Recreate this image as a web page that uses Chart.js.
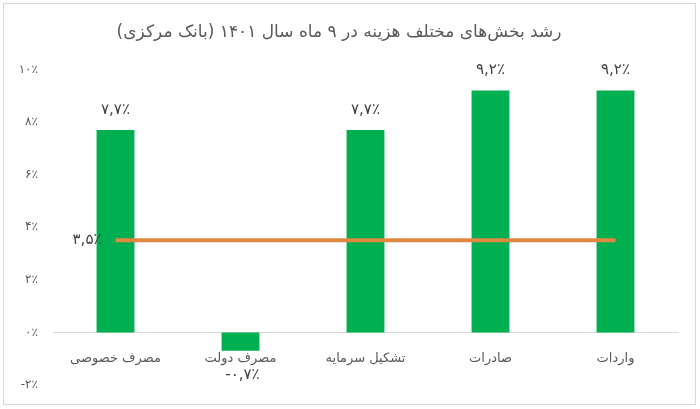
<!DOCTYPE html>
<html>
<head>
<meta charset="utf-8">
<script src="https://cdn.jsdelivr.net/npm/chart.js@4"></script>
<style>
  html, body { margin: 0; padding: 0; background: #fff; }
  #wrap { width: 700px; height: 409px; position: relative; }
</style>
</head>
<body>
<div id="wrap"><canvas id="growth-graph" width="700" height="409"></canvas></div>
<script>
const titleText = 'رشد بخش‌های مختلف هزینه در ۹ ماه سال ۱۴۰۱ (بانک مرکزی)';
const categories = ['مصرف خصوصی', 'مصرف دولت', 'تشکیل سرمایه', 'صادرات', 'واردات'];
const growthValues = [7.7, -0.7, 7.7, 9.2, 9.2];
const growthLabels = ['۷,۷٪', '-۰,۷٪', '۷,۷٪', '۹,۲٪', '۹,۲٪'];
const gdpValues = [3.5, 3.5, 3.5, 3.5, 3.5];
const gdpLabel = '۳,۵٪';
const yTickLabels = { '-2': '-۲٪', '0': '۰٪', '2': '۲٪', '4': '۴٪', '6': '۶٪', '8': '۸٪', '10': '۱۰٪' };

const fontFamily = '"DejaVu Sans", "Noto Sans", sans-serif';

// frame round the whole picture + labels on bars and line
const framePlugin = {
  id: 'frame',
  beforeDraw(chart) {
    const ctx = chart.ctx;
    ctx.save();
    ctx.fillStyle = '#fff';
    ctx.fillRect(0, 0, chart.width, chart.height);
    ctx.strokeStyle = '#d9d9d9';
    ctx.lineWidth = 1;
    ctx.strokeRect(3.5, 3.5, 692, 401);
    ctx.restore();
  }
};

const valueLabelPlugin = {
  id: 'valueLabels',
  afterDatasetsDraw(chart) {
    const ctx = chart.ctx;
    ctx.save();
    ctx.fillStyle = '#404040';
    ctx.font = '15px ' + fontFamily;
    ctx.textAlign = 'center';
    ctx.textBaseline = 'middle';

    const barMeta = chart.getDatasetMeta(1);
    barMeta.data.forEach((bar, i) => {
      if (growthValues[i] >= 0) {
        ctx.fillText(growthLabels[i], bar.x, bar.y - 20);
      } else {
        ctx.fillText(growthLabels[i], bar.x + 2, bar.y + 24);
      }
    });

    const lineMeta = chart.getDatasetMeta(0);
    const first = lineMeta.data[0];
    ctx.textAlign = 'right';
    ctx.fillText(gdpLabel, first.x - 14, first.y);
    ctx.restore();
  }
};

const ctx = document.getElementById('growth-graph').getContext('2d');

const chartData = {
  labels: categories,
  datasets: [{
    type: 'line',
    label: 'GDP',
    data: gdpValues,
    borderColor: '#e0883f',
    borderWidth: 4,
    pointRadius: 0,
    fill: false,
    order: 0
  }, {
    type: 'bar',
    label: 'growth',
    data: growthValues,
    backgroundColor: '#00b050',
    categoryPercentage: 1,
    barPercentage: 0.303,
    order: 1
  }]
};

const config = {
  data: chartData,
  plugins: [framePlugin, valueLabelPlugin],
  options: {
    responsive: false,
    animation: false,
    layout: {
      padding: { left: 0, right: 22, top: 0, bottom: 24 }
    },
    plugins: {
      legend: { display: false },
      tooltip: { enabled: false },
      title: {
        display: true,
        text: '\u202B' + titleText + '\u202C',
        color: '#595959',
        font: { family: fontFamily, size: 17, weight: 'normal' },
        padding: { top: 22, bottom: 27 }
      }
    },
    scales: {
      x: {
        position: { y: 0 },
        grid: { display: false, drawTicks: false },
        border: { display: true, color: '#d9d9d9', width: 1 },
        ticks: {
          color: '#595959',
          font: { family: fontFamily, size: 13 },
          padding: 18,
          maxRotation: 0,
          autoSkip: false
        },
        afterFit(scale) { scale.height = 0; }
      },
      y: {
        min: -2,
        max: 10,
        grid: { display: false, drawTicks: false },
        border: { display: false },
        ticks: {
          stepSize: 2,
          color: '#595959',
          font: { family: fontFamily, size: 12 },
          padding: 15,
          callback: function(value) {
            return yTickLabels[String(value)];
          }
        },
        afterFit(scale) { scale.width = 53; }
      }
    }
  }
};

const growthChart = new Chart(ctx, config);
</script>
</body>
</html>
